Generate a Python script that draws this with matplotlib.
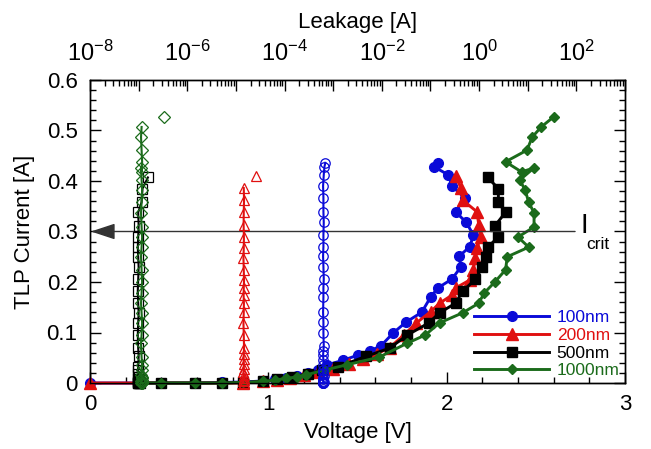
import numpy as np
import matplotlib
matplotlib.use('Agg')
import matplotlib.pyplot as plt
from matplotlib.ticker import MultipleLocator, LogLocator, FuncFormatter, NullFormatter
from matplotlib.lines import Line2D

plt.rcParams['font.family'] = ['Liberation Sans', 'DejaVu Sans']
plt.rcParams['mathtext.fontset'] = 'custom'
plt.rcParams['mathtext.rm'] = 'Liberation Sans'
plt.rcParams['mathtext.it'] = 'Liberation Sans'
plt.rcParams['mathtext.default'] = 'regular'

# ---------------- data ----------------
labels = ['100nm', '200nm', '500nm', '1000nm']

V_100 = [0.00, 0.28, 0.40, 0.59, 0.74, 0.86, 0.97, 1.04, 1.10, 1.16, 1.22, 1.28,
         1.33, 1.42, 1.50, 1.57, 1.63, 1.70, 1.77, 1.86, 1.91, 1.95, 2.03, 2.08,
         2.07, 2.13, 2.15, 2.11, 2.05, 2.10, 2.03, 2.01, 1.93, 1.95]
I_100 = [0.000, 0.000, 0.000, 0.000, 0.001, 0.002, 0.004, 0.007, 0.010, 0.014, 0.019, 0.026,
         0.036, 0.045, 0.055, 0.064, 0.073, 0.099, 0.120, 0.140, 0.170, 0.188, 0.206, 0.230,
         0.251, 0.270, 0.293, 0.318, 0.339, 0.367, 0.390, 0.412, 0.428, 0.436]
L_100 = [6.3e-4, 6.3e-4, 6.2e-4, 6.3e-4, 6.4e-4, 6.3e-4, 6.2e-4, 6.3e-4, 6.3e-4, 6.4e-4, 6.3e-4, 6.2e-4,
         6.3e-4, 6.3e-4, 6.2e-4, 6.3e-4, 6.4e-4, 6.3e-4, 6.3e-4, 6.2e-4, 6.3e-4, 6.3e-4, 6.4e-4, 6.3e-4,
         6.2e-4, 6.3e-4, 6.3e-4, 6.4e-4, 6.3e-4, 6.3e-4, 6.2e-4, 6.4e-4, 6.6e-4, 6.9e-4]

V_200 = [0.00, 0.86, 0.97, 1.05, 1.12, 1.20, 1.28, 1.36, 1.45, 1.53, 1.61, 1.68, 1.76, 1.83,
         1.91, 1.96, 2.03, 2.05, 2.13, 2.15, 2.16, 2.17, 2.19, 2.18, 2.17, 2.09, 2.08, 2.05]
I_200 = [0.000, 0.000, 0.003, 0.006, 0.010, 0.015, 0.021, 0.028, 0.037, 0.047, 0.058, 0.070, 0.095, 0.119,
         0.141, 0.158, 0.174, 0.188, 0.204, 0.224, 0.247, 0.267, 0.289, 0.313, 0.339, 0.362, 0.386, 0.410]
L_200 = [1.45e-5, 1.45e-5, 1.42e-5, 1.45e-5, 1.47e-5, 1.45e-5, 1.43e-5, 1.45e-5, 1.46e-5, 1.44e-5,
         1.45e-5, 1.47e-5, 1.45e-5, 1.43e-5, 1.45e-5, 1.46e-5, 1.44e-5, 1.45e-5, 1.47e-5, 1.45e-5,
         1.43e-5, 1.45e-5, 1.46e-5, 1.44e-5, 1.45e-5, 1.47e-5, 1.45e-5, 2.6e-5]

V_500 = [0.28, 0.40, 0.59, 0.74, 0.86, 0.97, 1.05, 1.13, 1.22, 1.30, 1.39, 1.55, 1.68, 1.78,
         1.90, 1.96, 2.05, 2.09, 2.16, 2.20, 2.22, 2.23, 2.29, 2.27, 2.33, 2.29, 2.29, 2.23]
I_500 = [0.000, 0.000, 0.000, 0.000, 0.001, 0.003, 0.007, 0.012, 0.018, 0.025, 0.032, 0.053, 0.069, 0.095,
         0.119, 0.139, 0.158, 0.182, 0.205, 0.229, 0.250, 0.269, 0.289, 0.311, 0.338, 0.358, 0.385, 0.407]
L_500 = [9.8e-8, 9.6e-8, 9.8e-8, 1.0e-7, 9.8e-8, 9.6e-8, 9.8e-8, 1.0e-7, 9.8e-8, 9.6e-8,
         9.8e-8, 1.0e-7, 9.8e-8, 9.6e-8, 9.8e-8, 1.0e-7, 9.8e-8, 9.6e-8, 9.8e-8, 1.0e-7,
         9.8e-8, 9.6e-8, 9.8e-8, 1.0e-7, 9.8e-8, 1.15e-7, 1.2e-7, 1.55e-7]

V_1000 = [0.28, 0.40, 0.59, 0.74, 0.86, 0.97, 1.04, 1.10, 1.16, 1.21, 1.32, 1.44, 1.62, 1.78,
          1.88, 1.96, 2.09, 2.18, 2.21, 2.27, 2.33, 2.34, 2.46, 2.40, 2.49, 2.49, 2.46, 2.44,
          2.41, 2.49, 2.42, 2.33, 2.45, 2.48, 2.53, 2.60]
I_1000 = [0.000, 0.000, 0.000, 0.000, 0.001, 0.003, 0.006, 0.009, 0.012, 0.016, 0.026, 0.036, 0.051, 0.079,
          0.095, 0.119, 0.139, 0.158, 0.178, 0.200, 0.224, 0.250, 0.269, 0.289, 0.309, 0.337, 0.358, 0.382,
          0.402, 0.426, 0.418, 0.438, 0.461, 0.487, 0.507, 0.527]
L_1000 = [1.15e-7, 1.12e-7, 1.15e-7, 1.18e-7, 1.15e-7, 1.12e-7, 1.15e-7, 1.18e-7, 1.15e-7, 1.12e-7,
          1.15e-7, 1.18e-7, 1.15e-7, 1.12e-7, 1.15e-7, 1.18e-7, 1.15e-7, 1.12e-7, 1.15e-7, 1.18e-7,
          1.15e-7, 1.12e-7, 1.15e-7, 1.18e-7, 1.15e-7, 1.12e-7, 1.15e-7, 1.18e-7, 1.15e-7, 1.12e-7,
          1.15e-7, 1.18e-7, 1.15e-7, 1.12e-7, 1.15e-7, 3.4e-7]

I_crit = 0.3

colors = ['#0a0ad8', '#e01010', '#000000', '#1b6b1b']
markers_iv = ['o', '^', 's', 'D']
ms_iv = [7.0, 8.0, 7.5, 5.3]
# leakage points shown detached (last point of red and green series)
detach_last = [False, True, False, True]

# ---------------- figure ----------------
fig = plt.figure(figsize=(6.51, 4.49), dpi=100)
ax = fig.add_axes([90/651, 1-383/449, 535/651, 303/449])
ax2 = ax.twiny()

series_iv = [(V_100, I_100), (V_200, I_200), (V_500, I_500), (V_1000, I_1000)]
series_lk = [(L_100, I_100), (L_200, I_200), (L_500, I_500), (L_1000, I_1000)]

for (v, i), c, m, s in zip(series_iv, colors, markers_iv, ms_iv):
    ax.plot(v, i, color=c, marker=m, ms=s, lw=2.1, mec=c, mfc=c, clip_on=False, zorder=3)

ms_lk = [6.8, 7.0, 7.2, 5.8]
for (l, i), c, m, s, d in zip(series_lk, colors, markers_iv, ms_lk, detach_last):
    n = len(l) - 1 if d else len(l)
    ax2.plot(l[:n], i[:n], color=c, marker=m, ms=s, lw=1.5, mec=c, mfc='none', mew=0.9,
             clip_on=False, zorder=3)
    if d:
        ax2.plot(l[n:], i[n:], ls='none', marker=m, ms=s, mec=c, mfc='none', mew=0.9,
                 clip_on=False, zorder=3)

ax.set_xlim(0, 3)
ax.set_ylim(0, 0.6)
ax2.set_xscale('log')
ax2.set_xlim(1e-8, 1e3)

# I_crit arrow
ax.annotate('', xy=(0.005, I_crit), xytext=(2.72, I_crit),
            arrowprops=dict(arrowstyle='-|>,head_length=1.0,head_width=0.33', color='#333333', lw=1.0,
                            shrinkA=0, shrinkB=0, mutation_scale=15), zorder=5)
ax.text(2.752, 0.31, 'I', fontsize=20, ha='left', va='center', color='black')
ax.text(2.785, 0.274, 'crit', fontsize=12.5, ha='left', va='center', color='black')

# ticks
ax.xaxis.set_major_locator(MultipleLocator(1))
ax.xaxis.set_minor_locator(MultipleLocator(0.2))
ax.yaxis.set_major_locator(MultipleLocator(0.1))
ax.yaxis.set_minor_locator(MultipleLocator(0.02))
ax.yaxis.set_major_formatter(FuncFormatter(lambda v, p: '0' if abs(v) < 1e-9 else f'{v:.1f}'))
ax.xaxis.set_major_formatter(FuncFormatter(lambda v, p: f'{v:.0f}'))
ax.tick_params(which='both', direction='in', top=False, right=True, labelsize=16, width=1)
ax.tick_params(which='major', length=8)
ax.tick_params(axis='y', which='major', pad=9)
ax.tick_params(axis='x', which='major', pad=8)
ax.tick_params(which='minor', length=4)

ax2.xaxis.set_major_locator(LogLocator(base=10, numticks=30))
ax2.xaxis.set_minor_locator(LogLocator(base=10, subs=np.arange(2, 10), numticks=30))
def top_fmt(v, p):
    e = int(round(np.log10(v)))
    return f'$10^{{{e}}}$' if e % 2 == 0 and e <= 2 else ''
ax2.xaxis.set_major_formatter(FuncFormatter(top_fmt))
ax2.xaxis.set_minor_formatter(NullFormatter())
ax2.tick_params(which='both', direction='in', top=True, bottom=False, labelsize=17, width=1)
ax2.tick_params(which='major', length=8, pad=10)
ax2.tick_params(which='minor', length=4)

for a in (ax, ax2):
    for sp in a.spines.values():
        sp.set_linewidth(1.0)

ax.set_xlabel('Voltage [V]', fontsize=16)
ax.set_ylabel('TLP Current [A]', fontsize=16)
ax2.set_xlabel('Leakage [A]', fontsize=16)
ax.xaxis.set_label_coords(0.5, -0.13)
ax.yaxis.set_label_coords(-0.103, 0.5)
ax2.xaxis.set_label_coords(0.5, 1.17)

# legend
handles = [Line2D([], [], color=c, marker=m, ms=s, lw=2.1, mec=c, mfc=c)
           for c, m, s in zip(colors, markers_iv, ms_iv)]
leg = ax.legend(handles, labels, loc='lower right', bbox_to_anchor=(0.99, 0.015),
                frameon=False, fontsize=12.5, handlelength=4.3, handletextpad=0.45,
                labelspacing=0.15, borderpad=0, borderaxespad=0)
for t, c in zip(leg.get_texts(), colors):
    t.set_color(c)

fig.savefig('out.png', dpi=100)
